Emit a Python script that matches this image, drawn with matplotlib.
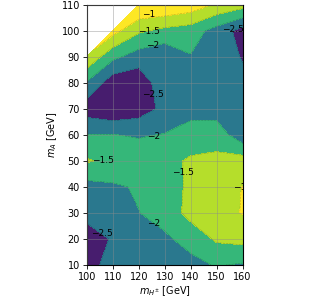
import numpy as np
import matplotlib
matplotlib.use('Agg')
import matplotlib.pyplot as plt

# grid of masses
m_hpm = [100, 110, 120, 130, 140, 150, 160]
m_a = [10, 20, 30, 40, 50, 60, 70, 80, 90, 100, 110]

# log10 values, one row per m_A (bottom to top), nan = not allowed
z_rows = [
    [-2.70, -2.30, -2.30, -2.30, -2.12, -1.97, -2.05],
    [-2.70, -2.465, -2.20, -2.07, -1.853, -1.42, -1.34],
    [-2.37, -2.25, -2.01, -1.84, -1.318, -1.25, -0.97],
    [-2.18, -2.07, -1.95, -1.75, -1.40, -1.20, -0.99],
    [-1.45, -1.63, -1.75, -1.617, -1.45, -1.39, -1.27],
    [-1.98, -1.99, -2.04, -1.98, -1.70, -1.70, -2.35],
    [-2.76, -2.93, -2.76, -2.37, -2.25, -2.25, -2.30],
    [-2.05, -2.80, -2.86, -2.14, -2.25, -2.25, -2.33],
    [-1.07, -1.88, -2.24, -2.39, -2.03, -2.10, -2.55],
    [np.nan, -0.82, -1.42, -1.64, -1.75, -2.20, -2.70],
    [np.nan, np.nan, -0.48, -0.52, -0.70, -1.08, -1.30],
]

levels = [-3, -2.5, -2, -1.5, -1, -0.5]
band_colors = ['#471d6e', '#2a788e', '#35b779', '#b5de2b', '#fde725']

# where to put the contour labels
label_pos = [(123.7, 106.4), (124.1, 99.8), (125.4, 94.5), (156.4, 100.5),
             (125.6, 75.6), (125.6, 59.3), (106.4, 50.0), (137.2, 45.6),
             (159.0, 39.8), (125.6, 26.0), (105.8, 21.9)]

X, Y = np.meshgrid(m_hpm, m_a)
Z = np.ma.masked_invalid(np.array(z_rows))

fig = plt.figure(figsize=(3.3, 3.0), dpi=100)
ax = fig.add_axes([0.263, 0.117, 0.472, 0.867])

ax.contourf(X, Y, Z, levels=levels, colors=band_colors)
cs = ax.contour(X, Y, Z, levels=levels[1:-1], colors='k', linewidths=0.4,
                linestyles='dotted', alpha=0.45)
labels = ax.clabel(cs, fontsize=6.5, manual=label_pos, inline=False,
                   fmt=lambda v: f'{v:g}'.replace('-', '\u2212'))
for t, p in zip(labels, label_pos):
    t.set_position(p)
    t.set_rotation(0)
    t.set_color('black')
    t.set_alpha(1)
    t.set_clip_on(True)

ax.set_xlim(100, 160)
ax.set_ylim(10, 110)
ax.set_xticks(m_hpm)
ax.set_yticks(m_a)
ax.tick_params(labelsize=7, length=3, width=0.6, pad=2)
ax.grid(True, color='#8c8c8c', linewidth=0.5, alpha=0.6)
ax.set_axisbelow(False)
ax.set_xlabel(r'$m_{H^{\pm}}$ [GeV]', fontsize=7, labelpad=2)
ax.set_ylabel(r'$m_A$ [GeV]', fontsize=7, labelpad=2)

fig.savefig('out.png', dpi=100)
